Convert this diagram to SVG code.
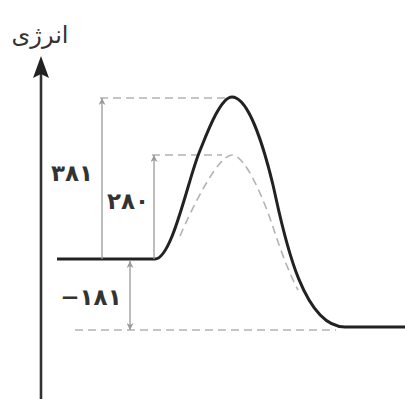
<svg xmlns="http://www.w3.org/2000/svg" width="405" height="399" viewBox="0 0 405 399">
<style>
.lbl{font-family:"DejaVu Sans","Noto Sans",sans-serif;fill:#333;text-anchor:middle;direction:ltr}
.num{font-size:23px;font-weight:bold}
.dash{fill:none;stroke:#b3b3b3;stroke-width:1.6;stroke-dasharray:8 5}
.dim{fill:none;stroke:#9a9a9a;stroke-width:1.3}
</style>
<defs>
<marker id="ah" viewBox="0 0 10 10" refX="10" refY="5" markerWidth="9" markerHeight="7" markerUnits="userSpaceOnUse" orient="auto-start-reverse">
<path d="M0,0 L10,5 L0,10 L3,5 Z" fill="#9a9a9a"/>
</marker>
</defs>
<rect width="405" height="399" fill="#fff"/>
<g id="axis">
<line x1="41" y1="399" x2="41" y2="74" stroke="#333" stroke-width="2.6"/>
<path d="M41,56 L49,78 L41,74 L33,78 Z" fill="#222"/>
<text class="lbl" x="40" y="43" font-size="24">انرژی</text>
</g>
<g id="guides">
<line class="dash" x1="100" y1="98" x2="226" y2="98"/>
<line class="dash" x1="152" y1="155" x2="222" y2="155"/>
<line class="dash" x1="75" y1="330" x2="336" y2="330"/>
<path class="dash" d="M180,236 C192,208 218,155 232,155 C246,155 265,203 273,227 C281,252 290,275 298,290"/>
</g>
<g id="curve">
<path d="M57,259 L155,259 C172,259 188,180 199,153 C206,136 220,97 232,97 C250,97 266,156 273,185 C282,224 300,327 345,327 L405,327" fill="none" stroke="#222" stroke-width="3"/>
</g>
<g id="connectors">
<line class="dim" x1="102" y1="259" x2="102" y2="98" marker-end="url(#ah)"/>
<line class="dim" x1="154" y1="259" x2="154" y2="155" marker-end="url(#ah)"/>
<line class="dim" x1="130" y1="261" x2="130" y2="330" marker-start="url(#ah)" marker-end="url(#ah)"/>
</g>
<g id="labels">
<text class="lbl num" x="72" y="181">۳۸۱</text>
<text class="lbl num" x="128" y="209">۲۸۰</text>
<text class="lbl num" x="91" y="305">−۱۸۱</text>
</g>
</svg>
